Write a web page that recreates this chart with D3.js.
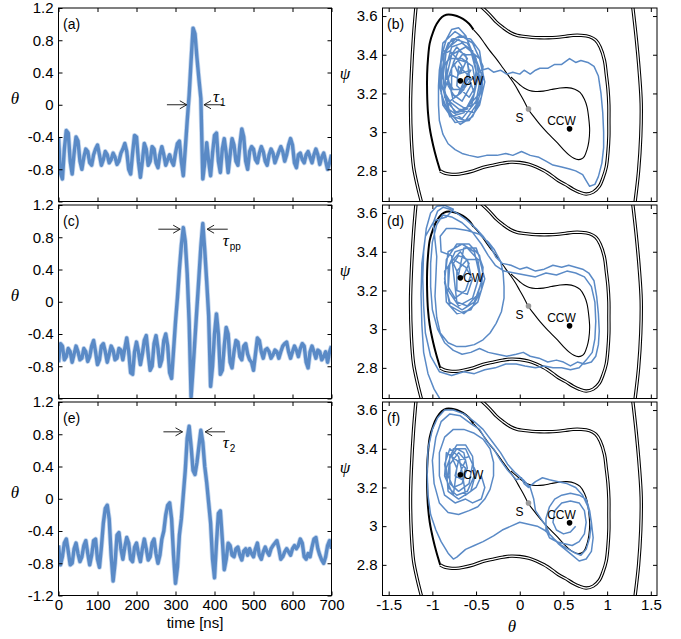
<!DOCTYPE html>
<html lang="en">
<head>
<meta charset="UTF-8">
<title>Pulses and phase portraits (D3.js)</title>
<script src="https://d3js.org/d3.v7.min.js"></script>
<style>
  body { margin: 0; background: #fff; }
  svg { display: block; }
  text { font-family: "Liberation Sans", Arial, sans-serif; fill: #000; }
  .sym { font-family: "Liberation Serif", "DejaVu Serif", serif; font-style: italic; }
</style>
</head>
<body>
<svg width="681" height="639"></svg>
<script>
// ---- data ----
const timeStep = 5; // ns between samples
const timeTicks = [0, 100, 200, 300, 400, 500, 600, 700];
const thetaTicks = [-1.2, -0.8, -0.4, 0, 0.4, 0.8, 1.2];
const phaseThetaTicks = [-1.5, -1, -0.5, 0, 0.5, 1, 1.5];
const psiTicks = [2.8, 3.0, 3.2, 3.4, 3.6];
const letters = ["(a)", "(b)", "(c)", "(d)", "(e)", "(f)"];

const traceA = [
  -0.40,-0.85,-0.92,-0.55,-0.32,-0.35,-0.70,-0.86,-0.60,-0.40,
  -0.45,-0.70,-0.80,-0.65,-0.55,-0.58,-0.72,-0.75,-0.62,-0.55,
  -0.50,-0.62,-0.75,-0.68,-0.58,-0.62,-0.72,-0.68,-0.60,-0.65,
  -0.74,-0.70,-0.60,-0.55,-0.48,-0.58,-0.80,-0.86,-0.60,-0.38,
  -0.40,-0.70,-0.90,-0.70,-0.48,-0.55,-0.75,-0.70,-0.52,-0.55,
  -0.72,-0.78,-0.62,-0.52,-0.62,-0.75,-0.68,-0.62,-0.70,-0.75,
  -0.60,-0.48,-0.45,-0.70,-0.88,-0.55,-0.20,0.12,0.55,0.95,
  0.88,0.58,0.32,0.08,-0.92,-0.72,-0.47,-0.70,-0.88,-0.60,
  -0.38,-0.35,-0.70,-0.84,-0.55,-0.42,-0.60,-0.84,-0.62,-0.42,
  -0.50,-0.70,-0.75,-0.50,-0.30,-0.40,-0.70,-0.80,-0.58,-0.52,
  -0.55,-0.68,-0.72,-0.60,-0.52,-0.58,-0.70,-0.75,-0.62,-0.55,
  -0.60,-0.72,-0.65,-0.58,-0.52,-0.58,-0.70,-0.62,-0.50,-0.42,
  -0.50,-0.72,-0.78,-0.62,-0.60,-0.68,-0.72,-0.62,-0.58,-0.65,
  -0.72,-0.62,-0.55,-0.62,-0.74,-0.65,-0.60,-0.70,-0.80,-0.72,
  -0.62
];
const traceC = [
  -0.75,-0.52,-0.55,-0.72,-0.68,-0.58,-0.62,-0.75,-0.65,-0.55,
  -0.62,-0.72,-0.70,-0.58,-0.62,-0.74,-0.68,-0.55,-0.48,-0.62,
  -0.78,-0.72,-0.55,-0.52,-0.62,-0.75,-0.65,-0.55,-0.60,-0.72,
  -0.70,-0.58,-0.60,-0.72,-0.58,-0.45,-0.62,-0.88,-0.90,-0.62,
  -0.50,-0.62,-0.78,-0.65,-0.48,-0.42,-0.65,-0.85,-0.80,-0.52,
  -0.42,-0.58,-0.80,-0.72,-0.48,-0.40,-0.55,-0.88,-0.95,-0.60,
  -0.25,0.05,0.40,0.70,0.92,0.75,0.35,-0.25,-1.18,-0.83,
  -0.45,-0.07,0.30,0.68,0.97,0.64,0.25,-0.17,-1.05,-0.80,
  -0.40,-0.15,-0.40,-0.90,-0.85,-0.55,-0.32,-0.40,-0.75,-0.82,
  -0.62,-0.48,-0.50,-0.68,-0.72,-0.55,-0.52,-0.65,-0.72,-0.75,
  -0.85,-0.65,-0.45,-0.48,-0.62,-0.70,-0.60,-0.58,-0.62,-0.70,
  -0.66,-0.60,-0.62,-0.70,-0.62,-0.55,-0.52,-0.50,-0.62,-0.70,
  -0.62,-0.55,-0.60,-0.68,-0.58,-0.52,-0.55,-0.75,-0.82,-0.62,
  -0.55,-0.62,-0.70,-0.60,-0.62,-0.72,-0.68,-0.62,-0.75,-0.62,
  -0.55
];
const traceE = [
  -0.58,-0.82,-0.72,-0.55,-0.50,-0.65,-0.82,-0.80,-0.62,-0.55,
  -0.68,-0.78,-0.72,-0.58,-0.52,-0.68,-0.82,-0.70,-0.52,-0.50,
  -0.75,-0.85,-0.60,-0.30,-0.12,-0.08,-0.25,-0.70,-1.02,-0.80,
  -0.45,-0.42,-0.62,-0.75,-0.60,-0.48,-0.55,-0.75,-0.78,-0.60,
  -0.55,-0.68,-0.78,-0.62,-0.50,-0.62,-0.76,-0.72,-0.55,-0.50,
  -0.68,-0.80,-0.70,-0.50,-0.40,-0.20,-0.08,-0.05,-0.25,-0.70,
  -1.05,-0.85,-0.45,-0.25,0.05,0.35,0.75,0.90,0.65,0.35,
  0.30,0.45,0.65,0.85,0.70,0.40,0.20,-0.05,-0.30,-0.75,
  -0.98,-0.55,-0.18,-0.15,-0.50,-0.88,-0.75,-0.55,-0.58,-0.70,
  -0.72,-0.62,-0.60,-0.70,-0.76,-0.65,-0.62,-0.70,-0.62,-0.68,
  -0.72,-0.62,-0.55,-0.70,-0.75,-0.66,-0.60,-0.66,-0.70,-0.62,
  -0.58,-0.55,-0.52,-0.62,-0.75,-0.72,-0.66,-0.62,-0.66,-0.70,
  -0.62,-0.58,-0.62,-0.58,-0.50,-0.55,-0.72,-0.75,-0.68,-0.72,
  -0.60,-0.50,-0.48,-0.62,-0.70,-0.76,-0.80,-0.72,-0.58,-0.52,
  -0.62
];

// phase-space trajectories, [theta, psi]
const phaseB = [
  [-0.68,3.30],[-0.60,3.38],[-0.72,3.44],[-0.84,3.36],[-0.86,3.20],[-0.74,3.10],[-0.55,3.14],[-0.48,3.28],
  [-0.56,3.42],[-0.70,3.48],[-0.86,3.42],[-0.90,3.26],[-0.82,3.12],[-0.66,3.07],[-0.50,3.16],[-0.44,3.30],
  [-0.52,3.40],[-0.66,3.40],[-0.78,3.33],[-0.78,3.20],[-0.66,3.16],[-0.56,3.24],[-0.60,3.36],[-0.74,3.38],
  [-0.82,3.28],[-0.76,3.16],[-0.62,3.12],[-0.46,3.20],[-0.42,3.34],[-0.54,3.46],[-0.74,3.52],[-0.88,3.46],
  [-0.92,3.30],[-0.88,3.14],[-0.74,3.05],[-0.58,3.06],[-0.46,3.14],[-0.40,3.26],[-0.46,3.38],[-0.62,3.44],
  [-0.78,3.40],[-0.84,3.28],[-0.76,3.22],[-0.64,3.22],[-0.60,3.30],[-0.70,3.34],[-0.72,3.24],[-0.58,3.18],
  [-0.50,3.24],[-0.54,3.34],[-0.66,3.38],[-0.80,3.38],[-0.88,3.34],[-0.86,3.18],[-0.70,3.12],[-0.52,3.10],
  [-0.44,3.22],[-0.48,3.34],[-0.62,3.50],[-0.78,3.48],[-0.90,3.38],[-0.90,3.20],[-0.80,3.08],[-0.64,3.10],
  [-0.52,3.20],[-0.58,3.28],[-0.70,3.20],[-0.64,3.26],[-0.56,3.32],
  [-0.70,3.30],[-0.76,3.36],[-0.70,3.42],[-0.62,3.40],[-0.58,3.32],[-0.64,3.22],[-0.74,3.18],[-0.82,3.24],
  [-0.84,3.34],[-0.78,3.44],[-0.66,3.46],[-0.54,3.42],[-0.50,3.32],[-0.52,3.20],[-0.60,3.12],[-0.72,3.10],
  [-0.84,3.16],[-0.88,3.28],[-0.84,3.42],[-0.74,3.48],[-0.60,3.46],[-0.50,3.38],[-0.46,3.26],[-0.50,3.14],
  [-0.62,3.06],[-0.76,3.08],[-0.86,3.14],[-0.92,3.24],[-0.90,3.36],[-0.82,3.46],[-0.68,3.50],[-0.56,3.48],
  [-0.46,3.42],[-0.42,3.30],[-0.44,3.18],[-0.54,3.08],[-0.68,3.04],[-0.80,3.10],[-0.86,3.22],[-0.80,3.30],
  [-0.72,3.28],[-0.66,3.34],[-0.72,3.38],[-0.80,3.42],[-0.88,3.40],[-0.92,3.32],[-0.88,3.22],[-0.80,3.16],
  [-0.68,3.20],[-0.58,3.26],[-0.44,3.32],
  [-0.36,3.33],[-0.30,3.31],[-0.22,3.32],[-0.15,3.30],[-0.08,3.31],[0.00,3.30],[0.05,3.32],[0.12,3.30],
  [0.18,3.32],[0.23,3.33],[0.32,3.33],[0.40,3.35],[0.48,3.35],[0.57,3.38],[0.64,3.36],[0.70,3.37],
  [0.78,3.36],[0.85,3.34],[0.90,3.29],[0.93,3.20],[0.95,3.10],[0.96,3.00],[0.96,2.92],[0.94,2.84],
  [0.90,2.77],[0.86,2.73],[0.80,2.72],[0.76,2.75],[0.72,2.78],[0.64,2.80],[0.57,2.81],[0.48,2.82],
  [0.38,2.83],[0.30,2.85],[0.22,2.87],[0.12,2.88],[0.02,2.90],[-0.08,2.88],[-0.16,2.89],[-0.26,2.88],
  [-0.38,2.88],[-0.48,2.87],[-0.58,2.88],[-0.66,2.89],[-0.74,2.91],[-0.82,2.94],[-0.88,2.99],[-0.92,3.06],
  [-0.93,3.14],[-0.93,3.24],[-0.92,3.32],[-0.89,3.40],[-0.84,3.48],[-0.78,3.53],[-0.70,3.54],[-0.62,3.50]
];
const phaseD = [
  [-0.66,3.26],[-0.58,3.34],[-0.68,3.40],[-0.80,3.34],[-0.82,3.20],[-0.70,3.12],[-0.54,3.16],[-0.46,3.28],
  [-0.52,3.40],[-0.66,3.44],[-0.82,3.40],[-0.86,3.26],[-0.80,3.12],[-0.64,3.08],[-0.48,3.14],[-0.40,3.26],
  [-0.46,3.36],[-0.60,3.36],[-0.72,3.30],[-0.72,3.20],[-0.60,3.18],[-0.54,3.26],[-0.62,3.32],[-0.76,3.36],
  [-0.86,3.30],[-0.84,3.14],[-0.72,3.08],[-0.56,3.10],[-0.44,3.20],[-0.42,3.32],[-0.50,3.42],[-0.64,3.42],
  [-0.70,3.28],[-0.76,3.34],[-0.70,3.38],[-0.60,3.36],[-0.56,3.28],[-0.62,3.20],[-0.74,3.16],[-0.82,3.22],
  [-0.82,3.32],[-0.74,3.40],[-0.60,3.42],[-0.48,3.36],[-0.44,3.24],[-0.52,3.14],[-0.66,3.10],[-0.80,3.14],
  [-0.86,3.24],[-0.84,3.36],[-0.72,3.44],[-0.58,3.44],[-0.46,3.38],[-0.42,3.28],[-0.48,3.18],[-0.60,3.12],
  [-0.72,3.14],
  [-0.78,3.38],[-0.90,3.40],[-0.91,3.48],[-0.84,3.52],[-0.74,3.52],[-0.60,3.51],[-0.46,3.49],[-0.36,3.45],
  [-0.29,3.41],[-0.22,3.35],[-0.19,3.29],[-0.18,3.22],[-0.18,3.16],[-0.21,3.09],[-0.27,3.03],[-0.34,2.98],
  [-0.42,2.945],[-0.52,2.92],[-0.62,2.91],[-0.72,2.91],[-0.82,2.93],[-0.91,2.98],[-0.95,3.06],[-0.97,3.17],
  [-0.96,3.27],[-0.95,3.375],[-0.97,3.46],[-0.99,3.55],[-0.94,3.61],[-0.875,3.63],[-0.80,3.62],[-0.72,3.60],
  [-0.61,3.565],[-0.50,3.52],[-0.42,3.48],[-0.34,3.43],[-0.27,3.37],
  [-0.20,3.34],[-0.10,3.33],[0.00,3.31],[0.08,3.32],[0.18,3.30],[0.28,3.31],[0.38,3.33],[0.48,3.32],
  [0.56,3.33],[0.64,3.32],[0.72,3.31],[0.79,3.29],[0.85,3.25],[0.88,3.17],[0.90,3.08],[0.91,2.99],
  [0.90,2.92],[0.87,2.86],[0.82,2.83],[0.74,2.82],[0.66,2.83],[0.58,2.81],[0.50,2.83],[0.42,2.84],
  [0.32,2.83],[0.22,2.85],[0.12,2.86],[0.04,2.88],[-0.04,2.87],[-0.15,2.86],[-0.26,2.87],[-0.36,2.88],
  [-0.46,2.90],[-0.56,2.88],[-0.66,2.87],[-0.76,2.89],[-0.86,2.93],[-0.94,3.00],[-1.00,3.10],[-1.02,3.22],
  [-1.02,3.34],[-1.00,3.45],[-0.95,3.54],[-0.88,3.59],[-0.78,3.58],[-0.66,3.55],[-0.54,3.50],[-0.44,3.44],
  [-0.36,3.38],[-0.28,3.33],
  [-0.18,3.30],[-0.06,3.29],[0.06,3.28],[0.18,3.27],[0.30,3.29],[0.42,3.28],[0.54,3.30],[0.64,3.29],
  [0.74,3.27],[0.82,3.22],[0.86,3.14],[0.87,3.04],[0.86,2.95],[0.83,2.88],[0.76,2.84],[0.68,2.80],
  [0.58,2.79],[0.48,2.80],[0.38,2.80],[0.28,2.81],[0.18,2.80],[0.06,2.81],[-0.04,2.82],[-0.16,2.82],
  [-0.28,2.80],[-0.40,2.79],[-0.52,2.77],[-0.64,2.78],[-0.78,2.76],[-0.92,2.78],[-1.02,2.86],[-1.08,2.98],
  [-1.10,3.12],[-1.11,3.26],[-1.10,3.40],[-1.07,3.52],[-1.02,3.60],[-0.95,3.635],[-0.86,3.64],[-0.76,3.62],
  [-0.84,3.58],[-0.98,3.56],[-1.08,3.48],[-1.12,3.34],[-1.13,3.18],[-1.12,3.02],[-1.10,2.88],[-1.05,2.77],
  [-0.98,2.69],[-0.90,2.63]
];
const phaseF = [
  [-0.68,3.28],[-0.62,3.34],[-0.70,3.38],[-0.80,3.32],[-0.80,3.22],[-0.70,3.18],[-0.58,3.22],[-0.54,3.32],
  [-0.62,3.40],[-0.76,3.40],[-0.84,3.30],[-0.82,3.18],[-0.70,3.14],[-0.56,3.18],[-0.50,3.28],[-0.58,3.36],
  [-0.70,3.34],[-0.74,3.26],[-0.66,3.24],[-0.62,3.30],[-0.72,3.34],[-0.84,3.38],[-0.86,3.26],[-0.76,3.16],
  [-0.72,3.30],[-0.78,3.36],[-0.72,3.40],[-0.64,3.38],[-0.60,3.30],[-0.66,3.22],[-0.76,3.20],[-0.82,3.26],
  [-0.80,3.36],[-0.72,3.42],[-0.62,3.42],[-0.54,3.36],[-0.52,3.26],[-0.60,3.18],[-0.72,3.16],[-0.82,3.20],
  [-0.86,3.32],[-0.80,3.40],[-0.70,3.36],[-0.66,3.28],
  [-0.62,3.16],[-0.50,3.20],[-0.44,3.26],[-0.40,3.20],[-0.44,3.14],[-0.54,3.12],[-0.62,3.14],
  [-0.74,3.12],[-0.86,3.16],[-0.92,3.26],[-0.92,3.38],[-0.86,3.46],[-0.76,3.50],[-0.64,3.50],[-0.52,3.48],
  [-0.42,3.45],[-0.34,3.40],[-0.30,3.33],[-0.30,3.26],[-0.34,3.19],[-0.40,3.14],[-0.48,3.10],[-0.58,3.08],
  [-0.70,3.06],[-0.82,3.07],[-0.92,3.12],[-0.98,3.22],[-1.00,3.34],[-0.96,3.46],[-0.90,3.54],[-0.80,3.58],
  [-0.68,3.57],[-0.56,3.53],[-0.46,3.50],[-0.38,3.44],[-0.30,3.40],[-0.22,3.34],[-0.14,3.29],[-0.08,3.26],
  [-0.04,3.24],[0.02,3.25],[0.05,3.22],[0.10,3.20],[0.18,3.23],[0.26,3.25],[0.34,3.24],[0.44,3.23],
  [0.54,3.22],[0.64,3.20],[0.72,3.16],[0.78,3.10],[0.82,3.02],[0.84,2.94],[0.82,2.87],[0.76,2.83],
  [0.68,2.82],[0.60,2.85],[0.52,2.88],[0.44,2.91],[0.36,2.95],[0.28,2.98],[0.20,3.00],[0.10,3.01],
  [0.00,3.02],[-0.10,3.00],[-0.20,2.98],[-0.30,2.95],[-0.42,2.92],[-0.52,2.90],[-0.62,2.88],[-0.72,2.84],
  [-0.76,2.83],[-0.82,2.86],[-0.90,2.92],[-0.96,2.98],[-1.02,3.06],[-1.05,3.16],[-1.06,3.28],[-1.05,3.40],
  [-1.00,3.50],[-0.94,3.56],[-0.86,3.60],[-0.76,3.60],[-0.64,3.58],[-0.52,3.54],[-0.42,3.50],[-0.32,3.44],
  [-0.22,3.38],[-0.14,3.32],[-0.06,3.28],[0.04,3.24],[0.12,3.20],[0.16,3.14],[0.18,3.08],
  [0.24,3.04],[0.30,3.00],[0.34,2.96],[0.40,2.93],[0.48,2.90],[0.56,2.88],[0.64,2.86],[0.70,2.85],
  [0.76,2.88],[0.80,2.94],[0.82,3.02],[0.80,3.08],[0.76,3.14],[0.68,3.16],[0.58,3.17],[0.48,3.16],
  [0.40,3.14],[0.34,3.10],[0.30,3.04],[0.30,2.98],[0.34,2.94],[0.42,2.92],[0.50,2.91],[0.60,2.90],
  [0.68,2.92],[0.74,2.96],[0.76,3.02],[0.74,3.08],[0.68,3.12],[0.58,3.13],[0.48,3.12],[0.40,3.08],
  [0.38,3.02],[0.42,2.98],[0.50,2.96],[0.58,2.97],[0.64,3.00]
];

// energy contours (same in all three portraits)
const contourFarLeft = [[-1.185,3.66],[-1.215,3.50],[-1.24,3.30],[-1.25,3.14],[-1.24,2.96],[-1.215,2.82],[-1.17,2.72],[-1.12,2.63]];
const contourFarRight = [[1.29,3.66],[1.33,3.50],[1.37,3.30],[1.39,3.15],[1.385,2.98],[1.36,2.80],[1.32,2.64]];
const contourOuter = [
  [-0.52,3.68],[-0.42,3.64],[-0.34,3.605],[-0.27,3.57],[-0.19,3.54],[-0.11,3.515],[-0.03,3.50],[0.04,3.495],
  [0.14,3.49],[0.23,3.488],[0.33,3.488],[0.42,3.49],[0.52,3.495],[0.61,3.50],[0.70,3.50],[0.80,3.493],
  [0.87,3.475],[0.92,3.44],[0.97,3.37],[0.99,3.30],[1.01,3.22],[1.02,3.14],[1.02,3.06],[1.02,2.98],
  [1.01,2.90],[0.99,2.82],[0.95,2.76],[0.91,2.72],[0.84,2.69],[0.76,2.68],[0.68,2.69],[0.61,2.705],
  [0.52,2.73],[0.44,2.75],[0.38,2.77],[0.28,2.80],[0.19,2.82],[0.10,2.835],[0.00,2.843],[-0.10,2.845],
  [-0.19,2.84],[-0.30,2.83],[-0.42,2.818],[-0.53,2.80],[-0.65,2.787],[-0.73,2.782],[-0.80,2.783],[-0.86,2.788],[-0.91,2.80]
];
const contourSide = [
  [-0.91,2.80],[-0.95,2.86],[-0.99,2.93],[-1.03,3.02],[-1.05,3.10],[-1.06,3.20],[-1.06,3.30],[-1.05,3.38],
  [-1.03,3.46],[-0.99,3.52],[-0.95,3.56],[-0.89,3.595],[-0.84,3.607],[-0.78,3.607],[-0.72,3.60],[-0.65,3.585],
  [-0.58,3.56],[-0.53,3.53]
];
const contourInner = [
  [-0.53,3.53],[-0.47,3.50],[-0.42,3.47],[-0.35,3.425],[-0.27,3.38],[-0.19,3.33],[-0.11,3.28],[-0.05,3.24],
  [0.00,3.20],[0.05,3.16],[0.095,3.12],[0.16,3.08],[0.23,3.04],[0.32,2.995],[0.42,2.95],[0.50,2.91],
  [0.57,2.88],[0.62,2.865],[0.67,2.858],[0.71,2.862],[0.74,2.875],[0.77,2.91],[0.79,2.95],[0.80,3.01],
  [0.79,3.07],[0.77,3.13],[0.74,3.17],[0.69,3.205],[0.63,3.222],[0.54,3.23],[0.46,3.228],[0.36,3.22],
  [0.27,3.212],[0.18,3.21],[0.11,3.215],[0.05,3.228],[0.00,3.245],[-0.05,3.265],[-0.10,3.285]
];
const fixedPoints = [
  { name: "CW", theta: -0.68, psi: 3.265 },
  { name: "CCW", theta: 0.57, psi: 3.017 },
  { name: "S", theta: 0.10, psi: 3.12 }
];

// pulse-width markers: arrow tails/heads in ns at a theta level, label anchor
const widthMarks = [
  { level: 0.0, left: [278, 329], right: [422, 373], sub: "1", at: [396, 0.03] },
  { level: 0.9, left: [256, 312], right: [434, 381], sub: "pp", at: [421, 0.69] },
  { level: 0.83, left: [269, 318], right: [427, 376], sub: "2", at: [421, 0.63] }
];

// ---- layout ----
const svg = d3.select("svg");
const rows = [[8, 201.5], [205, 398.5], [402, 595.5]];
const leftX = [58.5, 331.5], rightX = [382.5, 657];
const blue = "#5a8ac6";

const defs = svg.append("defs");

function fmt(d) { return d === 0 ? "0" : (Number.isInteger(d) ? String(d) : d.toFixed(1)); }

function frame(g, x, y, xt, yt, showX, yFmt) {
  const [y0, y1] = y.range();
  const [x0, x1] = x.range();
  const style = s => s.attr("font-size", 15).attr("font-family", "Liberation Sans, Arial, sans-serif")
    .call(a => a.select(".domain").remove());
  g.append("g").attr("transform", `translate(0,${y0})`)
    .call(d3.axisBottom(x).tickValues(xt).tickSize(-4).tickPadding(4).tickFormat(showX ? fmt : ""))
    .call(style);
  g.append("g").attr("transform", `translate(0,${y1})`)
    .call(d3.axisTop(x).tickValues(xt).tickSize(-4).tickFormat(""))
    .call(style);
  g.append("g").attr("transform", `translate(${x0},0)`)
    .call(d3.axisLeft(y).tickValues(yt).tickSize(-4).tickPadding(5).tickFormat(yFmt))
    .call(style);
  g.append("g").attr("transform", `translate(${x1},0)`)
    .call(d3.axisRight(y).tickValues(yt).tickSize(-4).tickFormat(""))
    .call(style);
  g.append("rect").attr("x", x0).attr("y", y1).attr("width", x1 - x0).attr("height", y0 - y1)
    .attr("fill", "none").attr("stroke", "#000").attr("stroke-width", 1);
}

function clipFor(id, x, y) {
  const [x0, x1] = x.range(), [y0, y1] = y.range();
  defs.append("clipPath").attr("id", id).append("rect")
    .attr("x", x0).attr("y", y1).attr("width", x1 - x0).attr("height", y0 - y1);
  return `url(#${id})`;
}

function arrow(g, xa, xb, yy) {
  const dir = xb > xa ? 1 : -1;
  g.append("path")
    .attr("d", `M${xa},${yy}L${xb},${yy}M${xb - dir * 7},${yy - 4}L${xb},${yy}L${xb - dir * 7},${yy + 4}`)
    .attr("fill", "none").attr("stroke", "#222").attr("stroke-width", 1);
}

// ---- time traces ----
const traces = [traceA, traceC, traceE];
traces.forEach((trace, r) => {
  const g = svg.append("g");
  const x = d3.scaleLinear().domain([0, 700]).range(leftX);
  const y = d3.scaleLinear().domain([-1.2, 1.2]).range([rows[r][1], rows[r][0]]);
  const clip = clipFor("clipT" + r, x, y);
  const line = d3.line().x((d, i) => x(i * timeStep)).y(d => y(d));
  const lines = g.append("g").attr("clip-path", clip);
  lines.append("path").datum(trace).attr("d", line)
    .attr("fill", "none").attr("stroke", "#9fbce3").attr("stroke-opacity", 0.6)
    .attr("stroke-width", 5).attr("stroke-linejoin", "round");
  lines.append("path").datum(trace).attr("d", line)
    .attr("fill", "none").attr("stroke", blue).attr("stroke-width", 3.4).attr("stroke-linejoin", "round");

  frame(g, x, y, timeTicks, thetaTicks, r === 2, d => (d === -1.2 && r < 2) ? "" : fmt(d));

  g.append("text").attr("x", 63).attr("y", rows[r][0] + 21).attr("font-size", 14).text(letters[r * 2]);
  g.append("text").attr("class", "sym").attr("x", 15).attr("y", rows[r][0] + 96)
    .attr("text-anchor", "middle").attr("font-size", 17).text("θ");

  const m = widthMarks[r];
  arrow(g, x(m.left[0]), x(m.left[1]), y(m.level));
  arrow(g, x(m.right[0]), x(m.right[1]), y(m.level));
  const t = g.append("text").attr("x", x(m.at[0])).attr("y", y(m.at[1]));
  t.append("tspan").attr("class", "sym").attr("font-size", 17).text("τ");
  t.append("tspan").attr("font-size", 10).attr("dx", 1).attr("dy", 4).text(m.sub);
});

svg.append("text").attr("x", 195).attr("y", 628).attr("text-anchor", "middle")
  .attr("font-size", 15).text("time [ns]");

// ---- phase portraits ----
const portraits = [phaseB, phaseD, phaseF];
portraits.forEach((traj, r) => {
  const g = svg.append("g");
  const x = d3.scaleLinear().domain([-Math.PI / 2, Math.PI / 2]).range(rightX);
  const y = d3.scaleLinear().domain([Math.PI - 0.5, Math.PI + 0.5]).range([rows[r][1], rows[r][0]]);
  const clip = clipFor("clipP" + r, x, y);
  const line = d3.line().x(d => x(d[0])).y(d => y(d[1]));
  const inner = g.append("g").attr("clip-path", clip);

  [contourFarLeft, contourFarRight, contourOuter].forEach(c => {
    inner.append("path").datum(c).attr("d", line.curve(d3.curveCatmullRom))
      .attr("fill", "none").attr("stroke", "#000").attr("stroke-width", 3.4);
    inner.append("path").datum(c).attr("d", line.curve(d3.curveCatmullRom))
      .attr("fill", "none").attr("stroke", "#fff").attr("stroke-width", 1.3);
  });
  inner.append("path").datum(contourSide).attr("d", line.curve(d3.curveCatmullRom))
    .attr("fill", "none").attr("stroke", "#000").attr("stroke-width", 2);
  inner.append("path").datum(contourInner).attr("d", line.curve(d3.curveCatmullRom))
    .attr("fill", "none").attr("stroke", "#000").attr("stroke-width", 1.1);

  inner.append("path").datum(traj).attr("d", line.curve(d3.curveLinear))
    .attr("fill", "none").attr("stroke", blue).attr("stroke-width", 1.5).attr("stroke-linejoin", "round");

  fixedPoints.forEach(p => {
    inner.append("circle").attr("cx", x(p.theta)).attr("cy", y(p.psi)).attr("r", 2.8)
      .attr("fill", p.name === "S" ? "#9a9a9a" : "#000");
  });
  const cw = fixedPoints[0], ccw = fixedPoints[1], s = fixedPoints[2];
  g.append("text").attr("x", x(cw.theta) + 3).attr("y", y(cw.psi) + 4).attr("font-size", 12).text(cw.name);
  g.append("text").attr("x", x(ccw.theta) - 8).attr("y", y(ccw.psi) - 4).attr("text-anchor", "middle")
    .attr("font-size", 12).text(ccw.name);
  g.append("text").attr("x", x(s.theta) - 5).attr("y", y(s.psi) + 13).attr("text-anchor", "end")
    .attr("font-size", 12).text(s.name);

  frame(g, x, y, phaseThetaTicks, psiTicks, r === 2, fmt);

  g.append("text").attr("x", 387).attr("y", rows[r][0] + 21).attr("font-size", 14).text(letters[r * 2 + 1]);
  g.append("text").attr("class", "sym").attr("x", 345).attr("y", rows[r][0] + 71)
    .attr("text-anchor", "middle").attr("font-size", 17).text("ψ");
});

svg.append("text").attr("class", "sym").attr("x", 512).attr("y", 632).attr("text-anchor", "middle")
  .attr("font-size", 17).text("θ");
</script>
</body>
</html>
